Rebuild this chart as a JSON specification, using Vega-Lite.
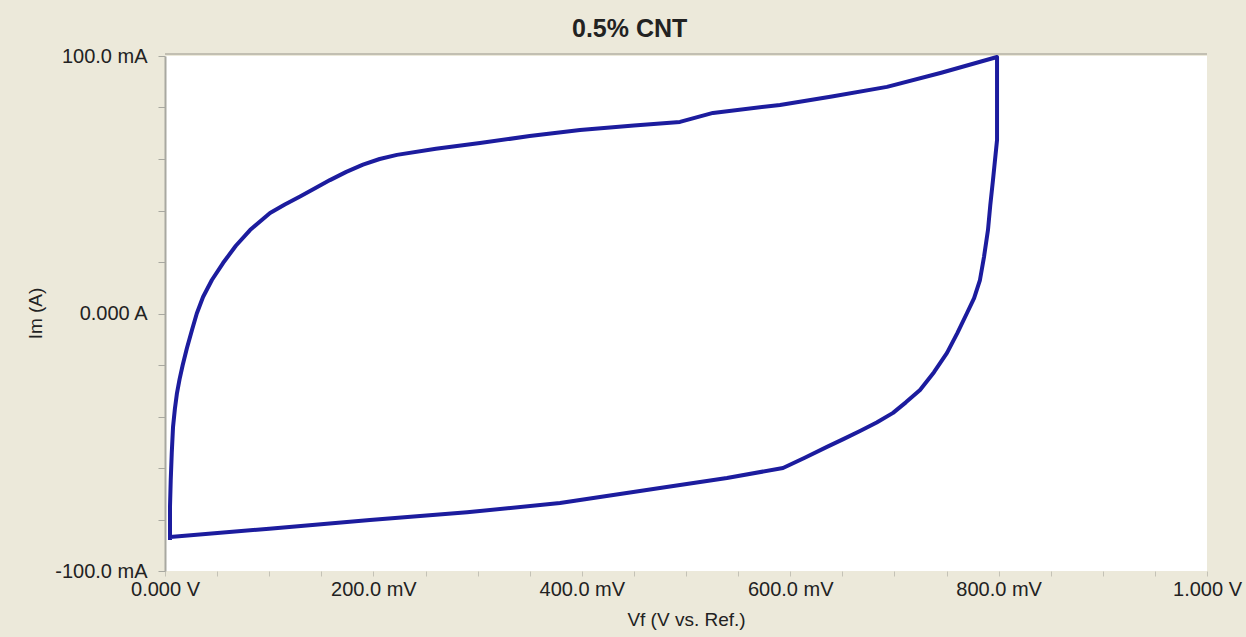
{
  "$schema": "https://vega.github.io/schema/vega-lite/v6.json",
  "autosize": "none",
  "width": 1042,
  "height": 515,
  "padding": {"left": 165, "top": 56, "right": 39, "bottom": 66},
  "background": "#ECE9DA",
  "title": {
    "text": "0.5% CNT",
    "font": "Liberation Sans",
    "fontSize": 25,
    "fontWeight": "bold",
    "color": "#222222",
    "anchor": "start",
    "frame": "group",
    "dx": 407,
    "offset": 4
  },
  "config": {
    "view": {"fill": "#FFFFFF", "stroke": null},
    "axis": {
      "labelFont": "Liberation Sans",
      "labelFontSize": 20,
      "labelColor": "#222222",
      "titleFont": "Liberation Sans",
      "titleFontSize": 19,
      "titleFontWeight": "normal",
      "titleColor": "#222222",
      "grid": false,
      "labelOverlap": false,
      "labelFlush": false
    }
  },
  "data": {
    "values": [
      {"step": 1, "potential_mV": 4.8, "current_mA": -88.0},
      {"step": 2, "potential_mV": 4.8, "current_mA": -75.0},
      {"step": 3, "potential_mV": 5.5, "current_mA": -64.7},
      {"step": 4, "potential_mV": 6.5, "current_mA": -54.0},
      {"step": 5, "potential_mV": 7.7, "current_mA": -44.1},
      {"step": 6, "potential_mV": 9.5, "current_mA": -37.0},
      {"step": 7, "potential_mV": 11.5, "current_mA": -30.9},
      {"step": 8, "potential_mV": 14.0, "current_mA": -25.5},
      {"step": 9, "potential_mV": 17.0, "current_mA": -20.0},
      {"step": 10, "potential_mV": 21.0, "current_mA": -13.5},
      {"step": 11, "potential_mV": 25.9, "current_mA": -6.4},
      {"step": 12, "potential_mV": 30.5, "current_mA": 0.0},
      {"step": 13, "potential_mV": 36.5, "current_mA": 6.4},
      {"step": 14, "potential_mV": 45.0, "current_mA": 13.0},
      {"step": 15, "potential_mV": 55.7, "current_mA": 19.6},
      {"step": 16, "potential_mV": 68.0, "current_mA": 26.3},
      {"step": 17, "potential_mV": 81.6, "current_mA": 32.4},
      {"step": 18, "potential_mV": 100.8, "current_mA": 39.0},
      {"step": 19, "potential_mV": 115.0, "current_mA": 42.3},
      {"step": 20, "potential_mV": 129.6, "current_mA": 45.4},
      {"step": 21, "potential_mV": 144.0, "current_mA": 48.6},
      {"step": 22, "potential_mV": 158.3, "current_mA": 51.8},
      {"step": 23, "potential_mV": 174.0, "current_mA": 55.0},
      {"step": 24, "potential_mV": 190.0, "current_mA": 57.8},
      {"step": 25, "potential_mV": 206.0, "current_mA": 60.0},
      {"step": 26, "potential_mV": 222.6, "current_mA": 61.6},
      {"step": 27, "potential_mV": 260.0, "current_mA": 64.0},
      {"step": 28, "potential_mV": 302.3, "current_mA": 66.2},
      {"step": 29, "potential_mV": 350.0, "current_mA": 68.9},
      {"step": 30, "potential_mV": 398.3, "current_mA": 71.3},
      {"step": 31, "potential_mV": 450.0, "current_mA": 73.0},
      {"step": 32, "potential_mV": 494.2, "current_mA": 74.4},
      {"step": 33, "potential_mV": 525.9, "current_mA": 77.9},
      {"step": 34, "potential_mV": 590.2, "current_mA": 81.0},
      {"step": 35, "potential_mV": 640.0, "current_mA": 84.3},
      {"step": 36, "potential_mV": 692.9, "current_mA": 88.0},
      {"step": 37, "potential_mV": 745.0, "current_mA": 93.5},
      {"step": 38, "potential_mV": 798.5, "current_mA": 99.6},
      {"step": 39, "potential_mV": 798.5, "current_mA": 67.4},
      {"step": 40, "potential_mV": 794.6, "current_mA": 51.8},
      {"step": 41, "potential_mV": 792.0, "current_mA": 42.0},
      {"step": 42, "potential_mV": 789.8, "current_mA": 32.4},
      {"step": 43, "potential_mV": 786.0, "current_mA": 22.0},
      {"step": 44, "potential_mV": 782.1, "current_mA": 13.0},
      {"step": 45, "potential_mV": 776.5, "current_mA": 6.0},
      {"step": 46, "potential_mV": 769.7, "current_mA": 0.2},
      {"step": 47, "potential_mV": 760.5, "current_mA": -7.5},
      {"step": 48, "potential_mV": 750.5, "current_mA": -15.3},
      {"step": 49, "potential_mV": 738.0, "current_mA": -22.8},
      {"step": 50, "potential_mV": 724.6, "current_mA": -29.7},
      {"step": 51, "potential_mV": 711.0, "current_mA": -34.5},
      {"step": 52, "potential_mV": 698.7, "current_mA": -38.6},
      {"step": 53, "potential_mV": 683.0, "current_mA": -42.3},
      {"step": 54, "potential_mV": 667.0, "current_mA": -45.6},
      {"step": 55, "potential_mV": 651.0, "current_mA": -48.8},
      {"step": 56, "potential_mV": 635.3, "current_mA": -51.8},
      {"step": 57, "potential_mV": 614.0, "current_mA": -56.0},
      {"step": 58, "potential_mV": 593.1, "current_mA": -60.0},
      {"step": 59, "potential_mV": 539.3, "current_mA": -63.9},
      {"step": 60, "potential_mV": 475.0, "current_mA": -67.8},
      {"step": 61, "potential_mV": 379.1, "current_mA": -73.6},
      {"step": 62, "potential_mV": 290.0, "current_mA": -77.2},
      {"step": 63, "potential_mV": 196.7, "current_mA": -80.2},
      {"step": 64, "potential_mV": 100.0, "current_mA": -83.6},
      {"step": 65, "potential_mV": 4.8, "current_mA": -86.8},
      {"step": 66, "potential_mV": 4.8, "current_mA": -88.0}
    ]
  },
  "layer": [
    {
      "mark": {"type": "rule", "color": "#C2BFB2", "strokeWidth": 2, "yOffset": -2},
      "encoding": {"y": {"datum": 100, "type": "quantitative"}}
    },
    {
      "mark": {"type": "line", "color": "#1C1C9E", "strokeWidth": 4, "strokeJoin": "round"},
      "encoding": {
        "x": {
          "field": "potential_mV",
          "type": "quantitative",
          "scale": {"domain": [0, 1000], "nice": false, "zero": false},
          "axis": {
            "title": "Vf (V vs. Ref.)",
            "titleX": 521,
            "titleY": 48,
            "titleBaseline": "middle",
            "domain": false,
            "tickColor": "#C4C2B6",
            "tickSize": 5,
            "labelPadding": 3,
            "labelDx": -6,
            "values": [0, 50, 100, 150, 200, 250, 300, 350, 400, 450, 500, 550, 600, 650, 700, 750, 800, 850, 900, 950, 1000],
            "labelExpr": "datum.value == 0 ? '0.000 V' : datum.value == 1000 ? '1.000 V' : datum.value % 200 == 0 ? format(datum.value, '.1f') + ' mV' : ''"
          }
        },
        "y": {
          "field": "current_mA",
          "type": "quantitative",
          "scale": {"domain": [-100, 100], "nice": false},
          "axis": {
            "title": "Im (A)",
            "titleX": -130,
            "titleY": 257,
            "titleBaseline": "middle",
            "domain": true,
            "domainColor": "#A8A8A0",
            "domainWidth": 2,
            "tickColor": "#A8A8A0",
            "tickSize": 7,
            "labelPadding": 11,
            "values": [-100, -90, -80, -70, -60, -50, -40, -30, -20, -10, 0, 10, 20, 30, 40, 50, 60, 70, 80, 90, 100],
            "labelExpr": "datum.value == 100 ? '100.0 mA' : datum.value == 50 ? '50.00 mA' : datum.value == 0 ? '0.000 A' : datum.value == -50 ? '-50.00 mA' : datum.value == -100 ? '-100.0 mA' : ''"
          }
        },
        "order": {"field": "step", "type": "quantitative"}
      }
    }
  ]
}
